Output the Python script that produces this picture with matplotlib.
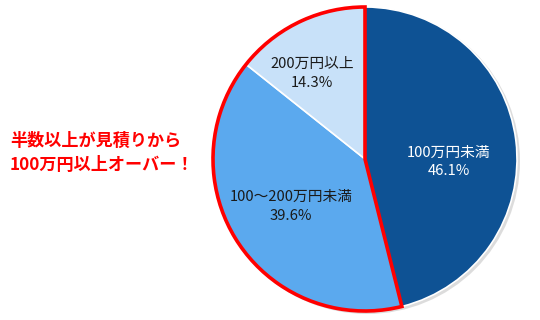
# -*- coding: utf-8 -*-
import numpy as np
import matplotlib
matplotlib.use('Agg')
import matplotlib.pyplot as plt
from matplotlib.patches import Wedge, Circle

plt.rcParams['font.family'] = ['Noto Sans CJK JP', 'DejaVu Sans']

# data
categories = ['100万円未満', '100〜200万円未満', '200万円以上']
shares = [46.1, 39.6, 14.3]
colors = ['#0e5294', '#5ba9ee', '#c8e1f9']
text_colors = ['white', '#1a1a1a', '#1a1a1a']
callout = '半数以上が見積りから\n100万円以上オーバー！'

# layout (pixels, y up)
W, H = 540, 320
cx, cy, r = 365, 161, 152
label_dist = [0.55, 0.58, 0.66]
label_nudge = [-9, 0, 6]

fig = plt.figure(figsize=(5.4, 3.2), dpi=100)
ax = fig.add_axes([0, 0, 1, 1])

# soft shadow
ax.add_patch(Circle((cx + 2, cy - 2), r + 1, facecolor='#bbbbbb', edgecolor='none', alpha=0.5, zorder=0))

wedges, _ = ax.pie(shares, colors=colors, startangle=90, counterclock=False,
                   center=(cx, cy), radius=r, frame=True,
                   wedgeprops=dict(edgecolor='white', linewidth=1.2))
ax.set_xlim(0, W)
ax.set_ylim(0, H)
ax.set_aspect('equal')
ax.axis('off')

# red outline round the slices of 100万円以上
over = sum(shares[1:]) / sum(shares) * 360
ax.add_patch(Wedge((cx, cy), r, 90, 90 + over, facecolor='none',
                   edgecolor='#ff0000', linewidth=2.6, joinstyle='miter', zorder=5))

# slice labels
for w, cat, val, d, nud, tc in zip(wedges, categories, shares, label_dist, label_nudge, text_colors):
    mid = np.deg2rad((w.theta1 + w.theta2) / 2 + nud)
    x = cx + d * r * np.cos(mid)
    y = cy + d * r * np.sin(mid)
    ax.text(x, y, f'{cat}\n{val:.1f}%', ha='center', va='center',
            fontsize=10.6, color=tc, linespacing=1.45, zorder=6)

ax.text(10, 167, callout, ha='left', va='center', fontsize=12.3,
        fontweight='bold', color='#ff0000', linespacing=1.5)

fig.savefig('out.png', dpi=100)
